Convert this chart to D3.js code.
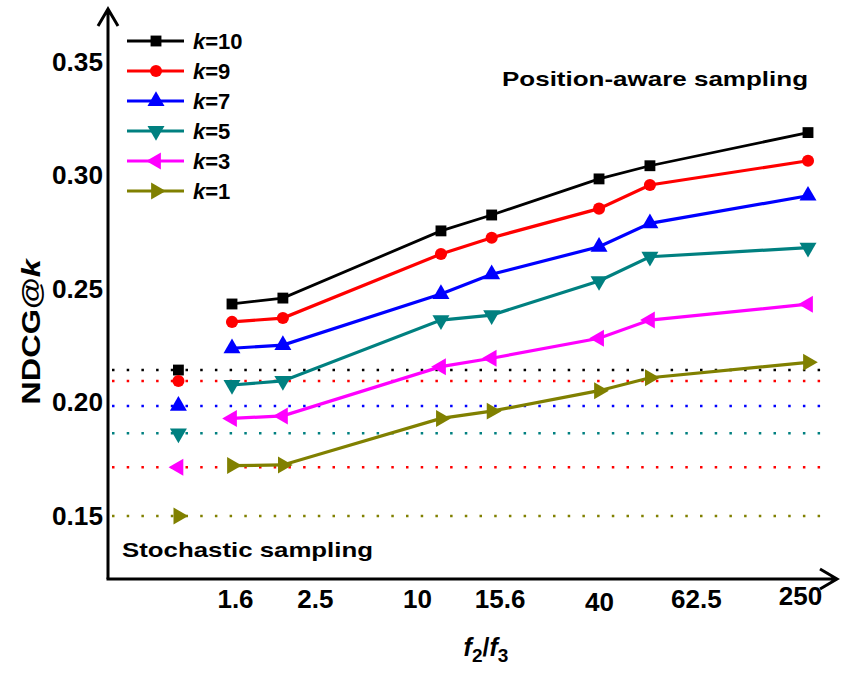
<!DOCTYPE html>
<html>
<head>
<meta charset="utf-8">
<script src="https://cdn.jsdelivr.net/npm/d3@7"></script>
<style>
  body { margin: 0; background: #fff; }
  text { font-family: "Liberation Sans", Arial, sans-serif; font-weight: bold; fill: #000; }
</style>
</head>
<body>
<div id="chart"></div>
<script>
// ----------------------------------------------
// Data
// ----------------------------------------------
var ratios = [1.6, 2.5, 10, 15.6, 40, 62.5, 250];
var tickLabels = ["1.6", "2.5", "10", "15.6", "40", "62.5", "250"];
var kLabels = ["10", "9", "7", "5", "3", "1"];

var k10 = [0.2434, 0.2460, 0.2756, 0.2826, 0.2985, 0.3043, 0.3189];
var k9  = [0.2355, 0.2372, 0.2654, 0.2726, 0.2854, 0.2958, 0.3065];
var k7  = [0.2239, 0.2253, 0.2478, 0.2565, 0.2686, 0.2789, 0.2911];
var k5  = [0.2077, 0.2095, 0.2363, 0.2385, 0.2535, 0.2642, 0.2682];
var k3  = [0.1930, 0.1941, 0.2158, 0.2195, 0.2283, 0.2363, 0.2433];
var k1  = [0.1722, 0.1725, 0.1930, 0.1962, 0.2052, 0.2109, 0.2177];

// stochastic sampling baseline (drawn at f2/f3 = 1)
var stochRatio = 1;
var stochastic = [0.2143, 0.2095, 0.1985, 0.1864, 0.1715, 0.1500];

var yTicks = [0.15, 0.20, 0.25, 0.30, 0.35];

// ----------------------------------------------
// Styles
// ----------------------------------------------
var colors = ["#000000", "#ff0000", "#0000ff", "#008080", "#ff00ff", "#808000"];
var dotColors = ["#000000", "#ff0000", "#0000ff", "#008080", "#ff0000", "#808000"];
var shapes = [d3.symbolSquare, d3.symbolCircle, d3.symbolTriangle, d3.symbolTriangle, d3.symbolTriangle, d3.symbolTriangle];
var rotations = [0, 0, 0, 180, 270, 90];
var symSizes = [118, 115, 125, 125, 125, 125];
// tick label nudges (the labels in the original are not exactly under the points)
var tickNudgeX = [3, 32, -24, 8, 0, 46, -8];
var tickNudgeY = [0, 0, 0, 0, 3, 0, -3];

var series = [k10, k9, k7, k5, k3, k1];

// ----------------------------------------------
// Basic D3 Setup
// ----------------------------------------------
var svgWidth = 841;
var svgHeight = 675;
var axisX = 108;
var axisY = 579;

var svg = d3.select("#chart")
    .append("svg")
    .attr("width", svgWidth)
    .attr("height", svgHeight);

var xScale = d3.scaleLog()
    .domain([1.6, 250])
    .range([232, 808]);

var yScale = d3.scaleLinear()
    .domain([0.15, 0.35])
    .range([516, 62]);

// ----------------------------------------------
// Axes
// ----------------------------------------------
var yAxis = svg.append("g")
    .attr("transform", `translate(${axisX},0)`)
    .call(d3.axisLeft(yScale).tickValues(yTicks).tickFormat(d3.format(".2f")).tickSize(0).tickPadding(5));
yAxis.select(".domain").remove();
yAxis.selectAll("text")
    .style("font-size", "25px")
    .style("font-family", "'Liberation Sans', Arial, sans-serif")
    .style("font-weight", "bold")
    .attr("textLength", 51)
    .attr("lengthAdjust", "spacingAndGlyphs");

var xAxis = svg.append("g")
    .attr("transform", `translate(0,${axisY})`)
    .call(d3.axisBottom(xScale).tickValues(ratios).tickFormat((d, i) => tickLabels[i]).tickSize(0).tickPadding(12));
xAxis.select(".domain").remove();
xAxis.selectAll("text")
    .style("font-size", "26px")
    .style("font-family", "'Liberation Sans', Arial, sans-serif")
    .style("font-weight", "bold")
    .attr("dx", (d, i) => tickNudgeX[i])
    .attr("y", (d, i) => 11 + tickNudgeY[i]);

// axis lines with open arrow heads
var axisLines = svg.append("g")
    .attr("fill", "none")
    .attr("stroke", "#000")
    .attr("stroke-width", 3);
axisLines.append("path")
    .attr("d", `M${axisX},${axisY} V9 M${axisX - 10},26 L${axisX},9 L${axisX + 10},26`);
axisLines.append("path")
    .attr("d", `M${axisX - 1.5},${axisY} H837 M820,${axisY - 10} L837,${axisY} L820,${axisY + 10}`);

// axis titles
var yTitle = svg.append("text")
    .attr("transform", `translate(40,332)rotate(-90)scale(1.3,1)`)
    .attr("text-anchor", "middle")
    .style("font-size", "25px");
yTitle.append("tspan").text("NDCG@");
yTitle.append("tspan").style("font-style", "italic").text("k");

var xTitle = svg.append("text")
    .attr("x", 486)
    .attr("y", 656)
    .attr("text-anchor", "middle")
    .style("font-size", "25px");
xTitle.append("tspan").style("font-style", "italic").text("f");
xTitle.append("tspan").attr("dy", 6).style("font-size", "19px").text("2");
xTitle.append("tspan").attr("dy", -6).text("/");
xTitle.append("tspan").style("font-style", "italic").text("f");
xTitle.append("tspan").attr("dy", 6).style("font-size", "19px").text("3");

// annotations
svg.append("text")
    .attr("x", 808)
    .attr("y", 86)
    .attr("text-anchor", "end")
    .attr("textLength", 306)
    .attr("lengthAdjust", "spacingAndGlyphs")
    .style("font-size", "21px")
    .text("Position-aware sampling");

svg.append("text")
    .attr("x", 122)
    .attr("y", 557)
    .attr("textLength", 251)
    .attr("lengthAdjust", "spacingAndGlyphs")
    .style("font-size", "21px")
    .text("Stochastic sampling");

// ----------------------------------------------
// Stochastic sampling reference lines
// ----------------------------------------------
var refGroup = svg.append("g");
refGroup.selectAll(".refLine")
    .data(stochastic)
    .enter()
    .append("line")
    .classed("refLine", true)
    .attr("x1", 112)
    .attr("x2", 822)
    .attr("y1", d => yScale(d))
    .attr("y2", d => yScale(d))
    .attr("stroke", (d, i) => dotColors[i])
    .attr("stroke-width", 2.5)
    .attr("stroke-dasharray", "2.5,12.2");

refGroup.selectAll(".refMark")
    .data(stochastic)
    .enter()
    .append("path")
    .classed("refMark", true)
    .attr("d", (d, i) => d3.symbol().type(shapes[i]).size(symSizes[i])())
    .attr("transform", (d, i) => `translate(${xScale(stochRatio)},${yScale(d)})rotate(${rotations[i]})`)
    .attr("fill", (d, i) => colors[i]);

// ----------------------------------------------
// Position-aware sampling curves
// ----------------------------------------------
var line = d3.line()
    .x((d, i) => xScale(ratios[i]))
    .y(d => yScale(d));

series.forEach((values, s) => {
    var g = svg.append("g");
    g.append("path")
        .datum(values)
        .attr("d", line)
        .attr("fill", "none")
        .attr("stroke", colors[s])
        .attr("stroke-width", s === 0 ? 2.8 : 3.2);
    g.selectAll("path.marker")
        .data(values)
        .enter()
        .append("path")
        .classed("marker", true)
        .attr("d", d3.symbol().type(shapes[s]).size(symSizes[s])())
        .attr("transform", (d, i) => `translate(${xScale(ratios[i])},${yScale(d)})rotate(${rotations[s]})`)
        .attr("fill", colors[s]);
});

// ----------------------------------------------
// Legend
// ----------------------------------------------
var legend = svg.append("g");
var legendRows = legend.selectAll("g")
    .data(kLabels)
    .enter()
    .append("g")
    .attr("transform", (d, i) => `translate(0,${41 + i * 30})`);

legendRows.append("line")
    .attr("x1", 127)
    .attr("x2", 184)
    .attr("stroke", (d, i) => colors[i])
    .attr("stroke-width", 3.2);

legendRows.append("path")
    .attr("d", (d, i) => d3.symbol().type(shapes[i]).size(symSizes[i])())
    .attr("transform", (d, i) => `translate(156,0)rotate(${rotations[i]})`)
    .attr("fill", (d, i) => colors[i]);

var legendText = legendRows.append("text")
    .attr("x", 193)
    .attr("y", 8)
    .style("font-size", "22px");
legendText.append("tspan").style("font-style", "italic").text("k");
legendText.append("tspan").text(d => "=" + d);
</script>
</body>
</html>
